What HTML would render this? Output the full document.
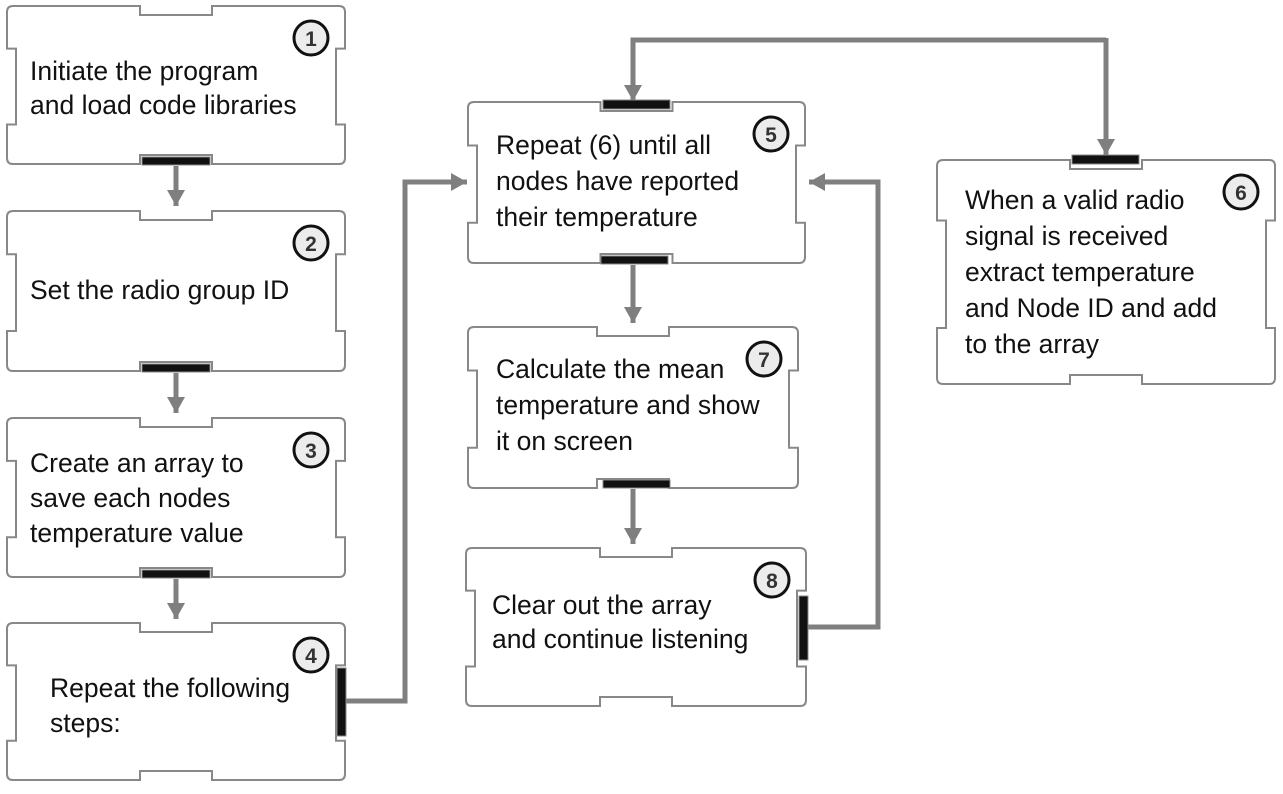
<!DOCTYPE html>
<html><head><meta charset="utf-8"><style>
body{margin:0;background:#fff;width:1283px;height:789px;overflow:hidden}
svg text{font-family:"Liberation Sans",sans-serif;font-size:26.5px;fill:#111}
</style></head><body>
<svg id="s" width="1283" height="789" xmlns="http://www.w3.org/2000/svg">
<defs><marker id="a" markerWidth="20" markerHeight="20" refX="16" refY="9" orient="auto" markerUnits="userSpaceOnUse"><path d="M0,0 L16,9 L0,18 Z" fill="#7f7f7f"/></marker></defs>
<g id="g"></g>
</svg>
<script>
const g=document.getElementById('g');let h='';
function box(x1,y1,x2,y2,n,lines,tx,ty,lh){
 const d=9,r=6,cx=(x1+x2)/2,tw=36;
 const sy1=y1+(y2-y1)*0.27,sy2=y1+(y2-y1)*0.75;
 let p=`M${x1+r},${y1} L${cx-tw},${y1} L${cx-tw},${y1+d} L${cx+tw},${y1+d} L${cx+tw},${y1} L${x2-r},${y1} Q${x2},${y1} ${x2},${y1+r} L${x2},${sy1} L${x2-d},${sy1} L${x2-d},${sy2} L${x2},${sy2} L${x2},${y2-r} Q${x2},${y2} ${x2-r},${y2} L${cx+tw},${y2} L${cx+tw},${y2-d} L${cx-tw},${y2-d} L${cx-tw},${y2} L${x1+r},${y2} Q${x1},${y2} ${x1},${y2-r} L${x1},${sy2} L${x1+d},${sy2} L${x1+d},${sy1} L${x1},${sy1} L${x1},${y1+r} Q${x1},${y1} ${x1+r},${y1} Z`;
 h+=`<path d="${p}" fill="#fff" stroke="#888" stroke-width="2"/>`;
 h+=`<circle cx="${x2-34}" cy="${y1+32}" r="17" fill="#ececec" stroke="#111" stroke-width="3"/><text x="${x2-34}" y="${y1+40}" text-anchor="middle" style="font-size:21px;font-weight:bold;fill:#333">${n}</text>`;
 lines.forEach((l,i)=>h+=`<text x="${tx}" y="${ty+i*lh}">${l}</text>`);
}
function bar(x,y,w,hh){h+=`<rect x="${x}" y="${y}" width="${w}" height="${hh}" fill="#111" stroke="#888" stroke-width="1"/>`;}
function ln(pts,arrow){h+=`<polyline points="${pts}" fill="none" stroke="#7f7f7f" stroke-width="5" ${arrow?'marker-end="url(#a)"':''}/>`;}
ln("176,166 176,206",1);ln("176,373 176,413",1);ln("176,579 176,619",1);
ln("633,265 633,323",1);ln("633,489 633,544",1);
ln("346,701 405,701 405,182 467,182",1);
ln("808,627 878,627 878,182 809,182",1);
ln("1106,40 633,40 633,101",1);
ln("1106,38 1106,155",1);
box(7,6,345,164,1,["Initiate the program","and load code libraries"],30,80,34);
box(7,211,345,371,2,["Set the radio group ID"],30,299,34);
box(7,418,345,577,3,["Create an array to","save each nodes","temperature value"],30,472,35);
box(7,623,345,780,4,["Repeat the following","steps:"],50,697,35);
box(468,102,805,263,5,["Repeat (6) until all","nodes have reported","their temperature"],496,154,36);
box(468,327,798,488,7,["Calculate the mean","temperature and show","it on screen"],496,378,36);
box(466,548,806,706,8,["Clear out the array","and continue listening"],492,614,34);
box(937,160,1275,384,6,["When a valid radio","signal is received","extract temperature","and Node ID and add","to the array"],965,209,36);
bar(142,157,68,8);bar(142,364,68,8);bar(142,570,68,8);
bar(337,668,9,68);
bar(603,100,67,9);bar(601,256,67,8);bar(603,480,67,8);
bar(799,596,9,64);
bar(1072,155,67,9);
g.innerHTML=h;
</script>
</body></html>
